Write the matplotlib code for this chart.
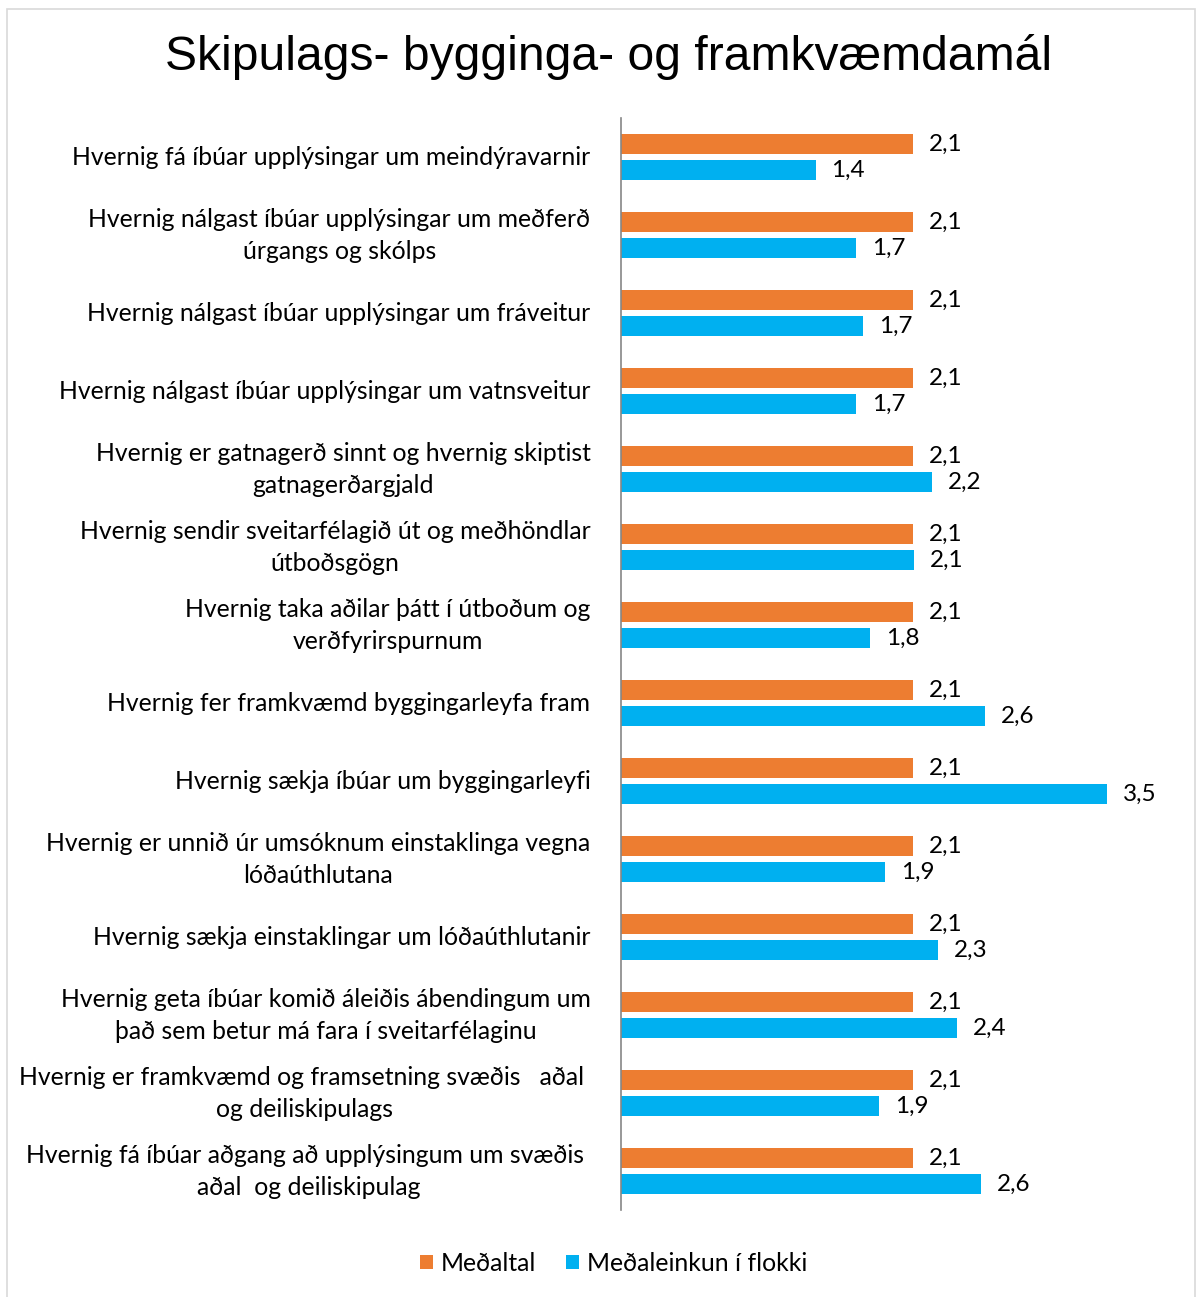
import matplotlib.pyplot as plt
import matplotlib.transforms as mtransforms
import numpy as np
from matplotlib.patches import Rectangle

title = 'Skipulags- bygginga- og framkvæmdamál'
categories = [
    'Hvernig fá íbúar upplýsingar um meindýravarnir',
    'Hvernig nálgast íbúar upplýsingar um meðferð\núrgangs og skólps',
    'Hvernig nálgast íbúar upplýsingar um fráveitur',
    'Hvernig nálgast íbúar upplýsingar um vatnsveitur',
    'Hvernig er gatnagerð sinnt og hvernig skiptist\ngatnagerðargjald',
    'Hvernig sendir sveitarfélagið út og meðhöndlar\nútboðsgögn',
    'Hvernig taka aðilar þátt í útboðum og\nverðfyrirspurnum',
    'Hvernig fer framkvæmd byggingarleyfa fram',
    'Hvernig sækja íbúar um byggingarleyfi',
    'Hvernig er unnið úr umsóknum einstaklinga vegna\nlóðaúthlutana',
    'Hvernig sækja einstaklingar um lóðaúthlutanir',
    'Hvernig geta íbúar komið áleiðis ábendingum um\nþað sem betur má fara í sveitarfélaginu',
    'Hvernig er framkvæmd og framsetning svæðis   aðal \nog deiliskipulags',
    'Hvernig fá íbúar aðgang að upplýsingum um svæðis \naðal  og deiliskipulag',
]
medaltal = [2.1] * 14
flokkur = [1.40, 1.69, 1.74, 1.69, 2.24, 2.11, 1.79, 2.62, 3.50, 1.90, 2.28, 2.42, 1.86, 2.59]
series_names = ['Meðaltal', 'Meðaleinkun í flokki']
colors = ['#ED7D31', '#00B0F0']

plt.rcParams['font.family'] = ['Lato', 'DejaVu Sans']

fig = plt.figure(figsize=(12, 12.97), dpi=100)
ax = fig.add_axes([0.5175, 0.067, 0.44, 0.842])

y = np.arange(len(categories))
h = 0.256
off = 0.167
b1 = ax.barh(y - off, medaltal, height=h, color=colors[0], label=series_names[0])
b2 = ax.barh(y + off, flokkur, height=h, color=colors[1], label=series_names[1])

# data labels with decimal comma
for bars, vals in [(b1, medaltal), (b2, flokkur)]:
    for bar, v in zip(bars, vals):
        ax.annotate(f'{v:.1f}'.replace('.', ','),
                    (bar.get_width(), bar.get_y() + bar.get_height() / 2),
                    xytext=(16, 0), textcoords='offset pixels',
                    va='center', ha='left', fontsize=17.5)

ax.set_ylim(len(categories) - 0.5, -0.5)
ax.set_xlim(0, 3.8)
ax.set_yticks(y)
ax.set_yticklabels(categories, fontsize=17.8, multialignment='center', linespacing=1.45)
ax.tick_params(axis='y', length=0, pad=22)
ax.set_xticks([])
for s in ['top', 'right', 'bottom']:
    ax.spines[s].set_visible(False)
ax.spines['left'].set_color('#868686')
ax.spines['left'].set_linewidth(1.2)

# nudge labels up a little (two-line ones sit low)
for lbl in ax.get_yticklabels():
    dy = 6 if '\n' in lbl.get_text() else 2
    lbl.set_transform(lbl.get_transform() +
                      mtransforms.ScaledTranslation(0, dy / 100, fig.dpi_scale_trans))

fig.text(0.507, 0.956, title, ha='center', va='center', fontsize=34.6,
         family='Liberation Sans')

fig.legend(handles=[b1, b2], loc='center', bbox_to_anchor=(0.511, 0.026), ncol=2,
           frameon=False, fontsize=17.8, handlelength=0.55, handleheight=0.55,
           handletextpad=0.3, columnspacing=1.2)

fig.add_artist(Rectangle((0.006, -0.01), 0.99, 1.003, transform=fig.transFigure,
                         fill=False, edgecolor='#d9d9d9', linewidth=1.2))

plt.savefig('out.png', dpi=100)
